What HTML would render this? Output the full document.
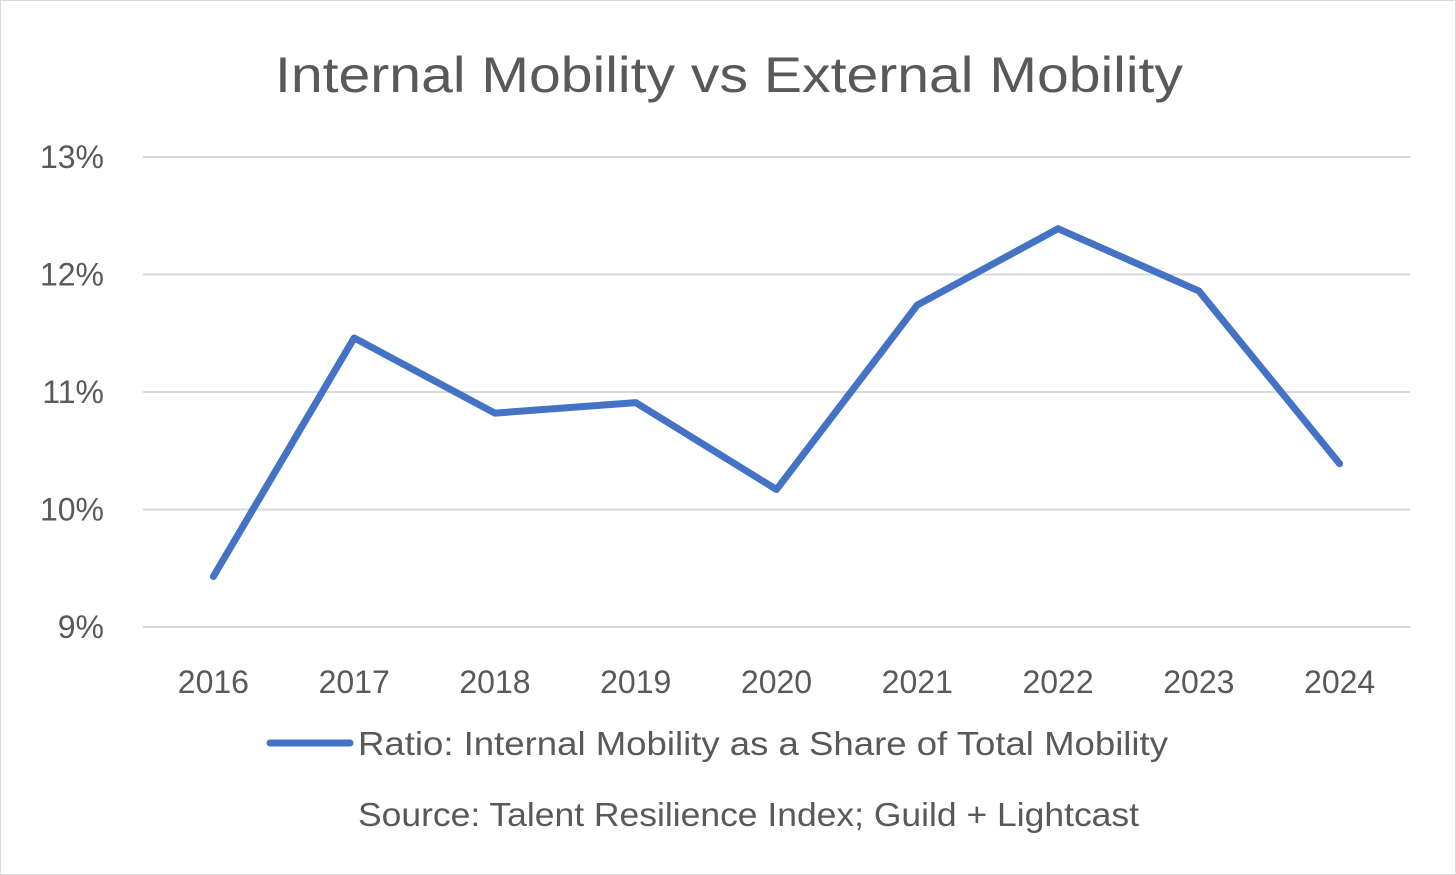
<!DOCTYPE html>
<html><head><meta charset="utf-8"><style>
html,body{margin:0;padding:0;background:#fff;}
svg{display:block;font-family:"Liberation Sans",sans-serif;}
</style></head><body>
<svg id="chart" width="1456" height="875" viewBox="0 0 1456 875">
<rect x="0.5" y="0.5" width="1455" height="874" fill="#fff" stroke="#d9d9d9"/>
<text x="275" y="92" font-size="50" fill="#595959" textLength="908" lengthAdjust="spacingAndGlyphs">Internal Mobility vs External Mobility</text>
<g id="grid"></g><g id="yticks"></g><g id="xticks"></g><g id="series"></g>
<line x1="270" y1="743" x2="350" y2="743" stroke="#4472C4" stroke-width="7" stroke-linecap="round"/>
<text x="358" y="755" font-size="33" fill="#595959" textLength="810" lengthAdjust="spacingAndGlyphs">Ratio: Internal Mobility as a Share of Total Mobility</text>
<text x="358" y="826" font-size="33" fill="#595959" textLength="781" lengthAdjust="spacingAndGlyphs">Source: Talent Resilience Index; Guild + Lightcast</text>
</svg>
<script>
const categories = ["2016","2017","2018","2019","2020","2021","2022","2023","2024"];
const ratioValues = [9.43, 11.46, 10.82, 10.91, 10.17, 11.74, 12.39, 11.86, 10.39];
const yTicks = [9, 10, 11, 12, 13];
const yTickLabels = ["9%","10%","11%","12%","13%"];
const NS = "http://www.w3.org/2000/svg";
const plotL = 143, plotR = 1410, yMin = 9, yMax = 13, pxMin = 627, pxMax = 157;
function y(v){ return pxMin - (v - yMin) / (yMax - yMin) * (pxMin - pxMax); }
function x(i){ const w = (plotR - plotL) / categories.length; return plotL + w/2 + i*w; }
function mk(tag, attrs){ const e = document.createElementNS(NS, tag); for (const k in attrs) e.setAttribute(k, attrs[k]); return e; }
const grid = document.getElementById('grid'), yt = document.getElementById('yticks'), xt = document.getElementById('xticks'), ser = document.getElementById('series');
yTicks.forEach((t, i) => {
  const l = mk('line', {x1: plotL, x2: plotR, y1: y(t), y2: y(t), stroke: '#d9d9d9', 'stroke-width': 2});
  
  
  grid.appendChild(l);
  const tx = mk('text', {x: 104, y: y(t) + 11, 'text-anchor': 'end', 'font-size': 32, fill: '#595959'});
  tx.textContent = yTickLabels[i];
  
  
  yt.appendChild(tx);
});
categories.forEach((c, i) => {
  const tx = mk('text', {x: x(i), y: 693, 'text-anchor': 'middle', 'font-size': 32, fill: '#595959'});
  tx.textContent = c;
  
  
  xt.appendChild(tx);
});
const pts = ratioValues.map((v, i) => x(i) + ',' + y(v)).join(' ');
const pl = mk('polyline', {points: pts, fill: 'none', stroke: '#4472C4', 'stroke-width': 7, 'stroke-linejoin': 'round', 'stroke-linecap': 'round'});


ser.appendChild(pl);
</script>
</body></html>
